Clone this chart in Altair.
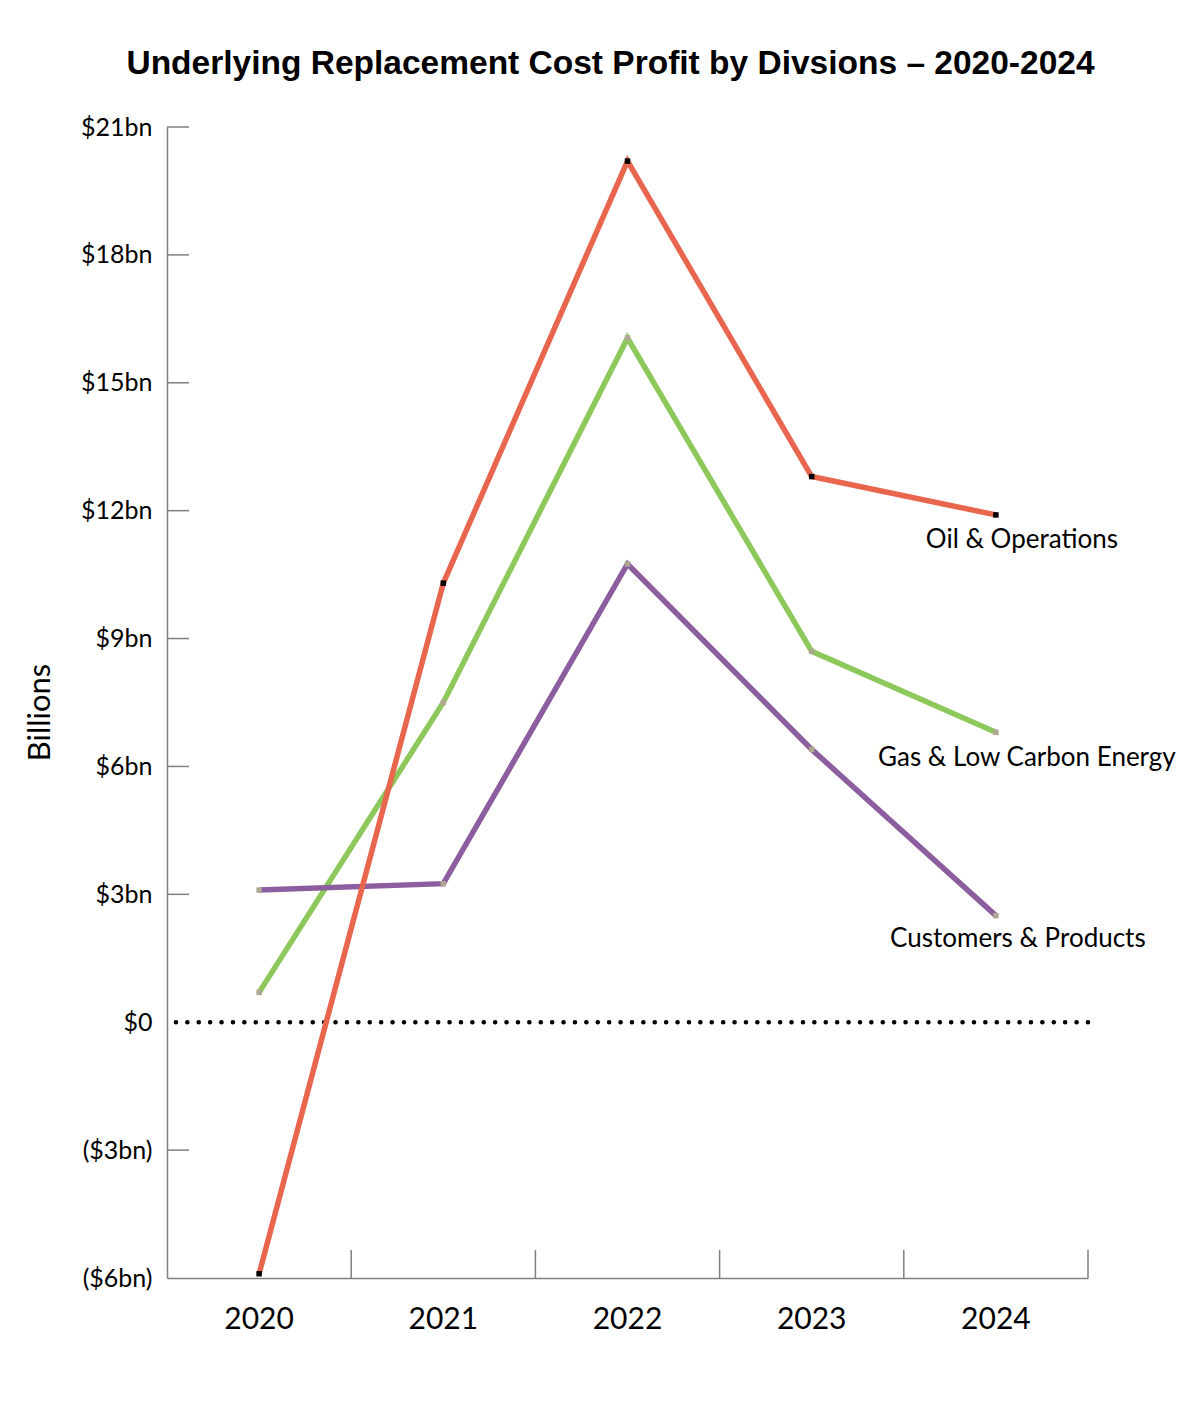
import altair as alt
import pandas as pd

years = ["2020", "2021", "2022", "2023", "2024"]
series_names = ["Gas & Low Carbon Energy", "Customers & Products", "Oil & Operations"]
oil = [-5.9, 10.3, 20.2, 12.8, 11.9]
gas = [0.7, 7.5, 16.05, 8.7, 6.8]
customers = [3.1, 3.25, 10.75, 6.4, 2.5]
y_ticks = [-6, -3, 0, 3, 6, 9, 12, 15, 18, 21]
inner_ticks = [-3, 3, 6, 9, 12, 15, 18, 21]
zero_line = [0]

colors = {"Oil & Operations": "#E8654E",
          "Gas & Low Carbon Energy": "#8DC85A",
          "Customers & Products": "#8C5E9F"}
values = {"Oil & Operations": oil,
          "Gas & Low Carbon Energy": gas,
          "Customers & Products": customers}

rows = []
for s in series_names:
    for yr, v in zip(years, values[s]):
        rows.append({"year": yr, "series": s, "value": v})
df = pd.DataFrame(rows)

W, H = 921, 1151
FONT = "Lato"

xscale = alt.Scale(type="band", domain=years, paddingInner=0, paddingOuter=0)
yscale = alt.Scale(domain=[-6, 21], nice=False, zero=False)

x_enc = alt.X("year:N", scale=xscale,
              axis=alt.Axis(title=None, ticks=False, tickSize=0, labelAngle=0,
                            labelAlign="center", labelBaseline="top",
                            labelFontSize=30, labelFont=FONT, labelColor="black",
                            labelPadding=26, domainColor="#7f7f7f", domainWidth=1.5,
                            grid=False))
label_expr = ("datum.value < 0 ? '($' + abs(datum.value) + 'bn)' : "
              "(datum.value == 0 ? '$0' : '$' + datum.value + 'bn')")
y_enc = alt.Y("value:Q", scale=yscale,
              axis=alt.Axis(title="Billions", values=y_ticks, ticks=False, tickSize=0,
                            labelExpr=label_expr, labelFontSize=25, labelFont=FONT,
                            labelColor="black", labelPadding=15,
                            titleFont=FONT, titleFontSize=31, titleFontWeight="normal",
                            titleColor="black", titleAngle=270,
                            titleX=-127, titleY=585, titleAlign="center",
                            titleBaseline="middle",
                            domainColor="#7f7f7f", domainWidth=1.5, grid=False))

base = alt.Chart(df)

layers = []

# zero dotted line
layers.append(alt.Chart(pd.DataFrame({"v": zero_line})).mark_rule(
    color="black", strokeWidth=4.5, strokeDash=[0.1, 11.3], strokeCap="round"
).encode(y=alt.Y("v:Q", scale=yscale)))

# inward y ticks
layers.append(alt.Chart(pd.DataFrame({"v": inner_ticks})).mark_rule(
    color="#7f7f7f", strokeWidth=1.5
).encode(y=alt.Y("v:Q", scale=yscale), x=alt.value(0), x2=alt.value(22)))

# inward x ticks at band boundaries
layers.append(alt.Chart(pd.DataFrame({"year": years})).mark_rule(
    color="#7f7f7f", strokeWidth=1.5
).encode(x=alt.X("year:N", scale=xscale, bandPosition=1),
         y=alt.value(H - 28), y2=alt.value(H)))

# lines
for s in series_names:
    layers.append(base.transform_filter(alt.datum.series == s).mark_line(
        strokeWidth=5.5, color=colors[s]
    ).encode(x=x_enc, y=y_enc))

# markers
layers.append(base.mark_square(size=30, opacity=1).encode(
    x=alt.X("year:N", scale=xscale),
    y=alt.Y("value:Q", scale=yscale),
    color=alt.condition(alt.datum.series == "Oil & Operations",
                        alt.value("black"), alt.value("#aea893"))))

# series labels
offsets = {"Oil & Operations": (26, 25),
           "Gas & Low Carbon Energy": (31, 26),
           "Customers & Products": (22, 23)}
for s in series_names:
    dx, dy = offsets[s]
    layers.append(base.transform_filter(
        (alt.datum.series == s) & (alt.datum.year == years[-1])
    ).mark_text(font=FONT, fontSize=26, color="black", dx=dx, dy=dy, align="center",
                baseline="middle").encode(
        x=alt.X("year:N", scale=xscale),
        y=alt.Y("value:Q", scale=yscale),
        text="series:N"))

chart = alt.layer(*layers).properties(
    width=W, height=H,
    title=alt.TitleParams("Underlying Replacement Cost Profit by Divsions \u2013 2020-2024",
                          font="Liberation Sans", fontSize=33.5, fontWeight="bold",
                          color="black", anchor="middle", dx=-17, offset=34),
    autosize=alt.AutoSizeParams(type="none"),
    padding={"left": 159, "top": 119, "right": 100, "bottom": 100},
).configure_view(stroke=None)

chart.save("out.html", embed_options={"renderer": "svg", "actions": False})
